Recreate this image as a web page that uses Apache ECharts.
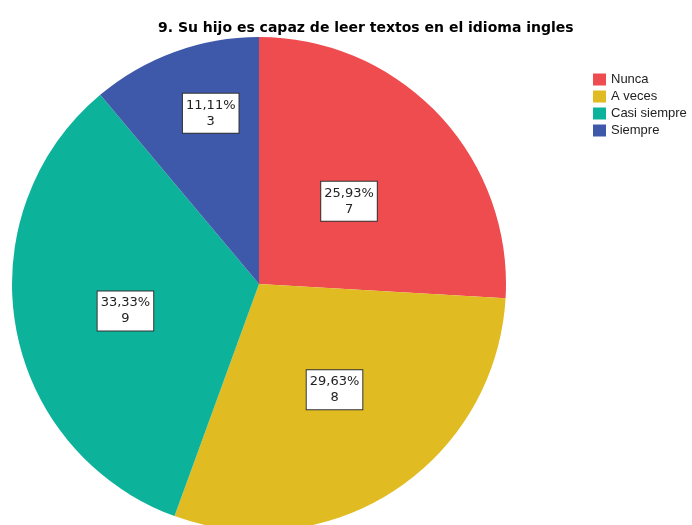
<!DOCTYPE html>
<html>
<head>
<meta charset="utf-8">
<script src="https://cdn.jsdelivr.net/npm/echarts@6/dist/echarts.min.js"></script>
<style>
  html, body { margin: 0; padding: 0; background: #fff; }
  #pieChart { width: 692px; height: 525px; }
</style>
</head>
<body>
<div id="pieChart"></div>
<script>
var titleText = "9. Su hijo es capaz de leer textos en el idioma ingles";
var categories = ["Nunca", "A veces", "Casi siempre", "Siempre"];
var counts = [7, 8, 9, 3];
var colors = ["#ee4c4e", "#e0bb21", "#0db29a", "#3e58aa"];

// small nudges so the boxes sit where the original ones do
var labelShift = [[-2, 4], [6, 0], [-9, 5], [-5, -52]];

var myChart = echarts.init(document.getElementById("pieChart"));

var pieData = categories.map(function (name, i) {
  return { name: name, value: counts[i] };
});

var option = {
  animation: false,
  color: colors,
  title: {
    text: titleText,
    left: 153,
    top: 16,
    textStyle: {
      fontFamily: "DejaVu Sans",
      fontSize: 14,
      fontWeight: "bold",
      color: "#000"
    }
  },
  legend: {
    orient: "vertical",
    left: 588,
    top: 68,
    icon: "rect",
    itemWidth: 13,
    itemHeight: 12,
    itemGap: 4,
    data: categories,
    textStyle: {
      fontFamily: "Liberation Sans",
      fontSize: 13,
      color: "#222"
    }
  },
  series: [
    {
      type: "pie",
      center: [259, 284],
      radius: 247,
      startAngle: 90,
      clockwise: true,
      data: pieData,
      itemStyle: { borderWidth: 0 },
      label: {
        show: true,
        position: "inside",
        fontFamily: "DejaVu Sans",
        fontSize: 13,
        lineHeight: 16,
        color: "#222",
        backgroundColor: "#fff",
        borderColor: "#333",
        borderWidth: 1,
        padding: [4, 3, 3, 3],
        formatter: function (p) {
          return p.percent.toFixed(2).replace(".", ",") + "%\n" + p.value;
        }
      },
      labelLayout: function (params) {
        var s = labelShift[params.dataIndex];
        return { dx: s[0], dy: s[1] };
      },
      emphasis: { disabled: true }
    }
  ]
};

myChart.setOption(option);
</script>
</body>
</html>
